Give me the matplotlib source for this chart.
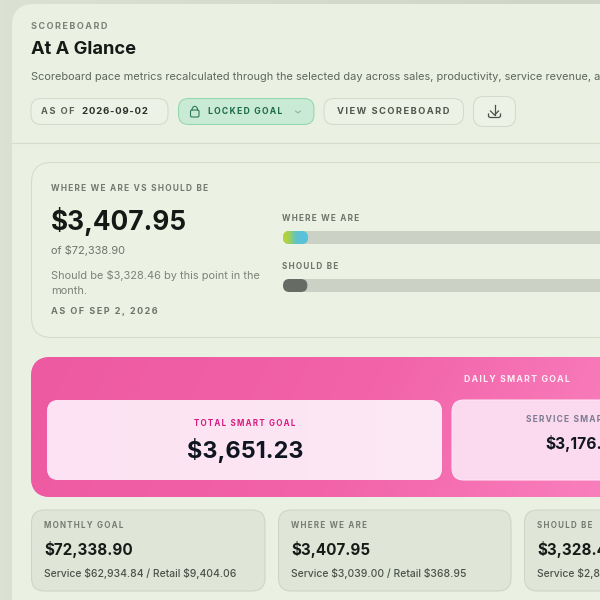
import numpy as np
import matplotlib
matplotlib.use("Agg")
import matplotlib.pyplot as plt
from matplotlib.colors import LinearSegmentedColormap
from matplotlib.patches import FancyBboxPatch, Rectangle

plt.rcParams["font.family"] = ["Inter", "DejaVu Sans"]

# values
monthly_goal = 72338.90
where_we_are = 3407.95
should_be = 3328.46
total_smart_goal = 3651.23
progress_labels = ["WHERE WE ARE", "SHOULD BE"]
progress_values = [where_we_are, should_be]
card_labels = ["MONTHLY GOAL", "WHERE WE ARE", "SHOULD BE"]
card_values = ["$72,338.90", "$3,407.95", "$3,328.4"]
card_splits = ["Service $62,934.84 / Retail $9,404.06",
               "Service $3,039.00 / Retail $368.95",
               "Service $2,8"]

TRACK_X = 283
TRACK_W = 530
HAIR = "\u200a"


def px(size):
    # css pixels to points at dpi 100
    return size * 0.72


def spaced(s, n=1):
    # fake css letter-spacing
    return (HAIR * n).join(s)


def rbox(ax, x0, y0, x1, y1, r, fc, ec="none", lw=0.75, z=1):
    patch = FancyBboxPatch((x0 + r, y0 + r), x1 - x0 - 2 * r, y1 - y0 - 2 * r,
                           boxstyle=f"round,pad={r},rounding_size={r}",
                           fc=fc, ec=ec, lw=lw, zorder=z)
    ax.add_patch(patch)
    return patch


def gradient(ax, patch, extent, colors, z, angle=0.0):
    cmap = LinearSegmentedColormap.from_list("g", colors)
    gx, gy = np.meshgrid(np.linspace(0, 1, 200), np.linspace(0, 1, 60))
    im = ax.imshow(gx + angle * gy, extent=extent, cmap=cmap, aspect="auto",
                   zorder=z, interpolation="bilinear")
    im.set_clip_path(patch)


def label(ax, x, y, s, size, color, weight="normal", ha="left", z=6):
    ax.text(x, y, s, fontsize=px(size), color=color, fontweight=weight,
            ha=ha, va="center", zorder=z, parse_math=False)


fig = plt.figure(figsize=(6, 6), dpi=100)
ax = fig.add_axes([0, 0, 1, 1])
ax.axis("off")

# page background and main panel
gradient(ax, Rectangle((0, 0), 600, 600, transform=ax.transData), (0, 600, 600, 0),
         ["#dbe1d3", "#cfd5c6"], 0)
rbox(ax, 12, 4, 660, 680, 22, "#eaf0e2", z=1)
ax.plot([12, 600], [142.5, 142.5], color="#d6ddcd", lw=0.8, zorder=2)

# header
label(ax, 31, 26.5, spaced("SCOREBOARD", 2), 9, "#7c8277", "bold")
label(ax, 31, 49.5, "At A Glance", 18.3, "#161a16", "bold")
label(ax, 31, 76.5, "Scoreboard pace metrics recalculated through the selected day across "
                    "sales, productivity, service revenue, a", 11, "#5f665b")

# header controls
rbox(ax, 31, 98.5, 168, 124.5, 10, "#edf2e6", "#d4dbca", z=2)
label(ax, 41, 111.5, spaced("AS OF", 2), 9.2, "#5a6055", "bold")
label(ax, 82.5, 111.5, spaced("2026-09-02"), 9.6, "#2b302a", "bold")

rbox(ax, 178.5, 98.5, 314, 124.5, 10, "#c9ead5", "#93d7af", z=2)
rbox(ax, 190.5, 110, 199, 117, 1.5, "none", "#2d7a56", 0.8, z=5)
arc_t = np.linspace(np.pi, 2 * np.pi, 20)
ax.plot(194.8 + 2.8 * np.cos(arc_t), 110 + 3.6 * np.sin(arc_t), color="#2d7a56", lw=0.8, zorder=5)
label(ax, 207.5, 111.5, spaced("LOCKED GOAL", 2), 8.6, "#1d6a48", "bold")
ax.plot([295.5, 298, 300.5], [111, 113, 111], color="#7fb598", lw=0.7, zorder=5)

rbox(ax, 324, 98.5, 463.5, 124.5, 10, "#edf2e6", "#d4dbca", z=2)
label(ax, 337, 111.5, spaced("VIEW SCOREBOARD", 2), 9.3, "#50564c", "bold")

rbox(ax, 473.5, 96.5, 515.5, 126.5, 10, "#edf2e6", "#d4dbca", z=2)
ax.plot([494.5, 494.5], [105, 115], color="#4a5048", lw=0.9, zorder=5)
ax.plot([490.5, 494.5, 498.5], [111, 115, 111], color="#4a5048", lw=0.9, zorder=5)
ax.plot([488.5, 488.5, 490, 499, 500.5, 500.5], [114, 116.5, 117.5, 117.5, 116.5, 114],
        color="#4a5048", lw=0.9, zorder=5)

# where we are card
rbox(ax, 31.5, 162.5, 680, 337.5, 20, "#ebf1e3", "#d5dccb", z=2)
label(ax, 51, 188.5, spaced("WHERE WE ARE VS SHOULD BE", 2), 8.3, "#747a70", "bold")
label(ax, 51, 221, f"${where_we_are:,.2f}", 26.2, "#151915", "bold")
label(ax, 51, 250.5, f"of ${monthly_goal:,.2f}", 11, "#6f756b")
label(ax, 51, 275.5, f"Should be ${should_be:,.2f} by this point in the", 11, "#7d8379")
label(ax, 51, 291.5, "month.", 11, "#7d8379")
label(ax, 51, 311, spaced("AS OF SEP 2, 2026", 2), 9.1, "#6f756b", "bold")

# progress tracks, fill width comes from value / goal
track_tops = [231, 279]
label_ys = [218.5, 266.5]
for i in range(len(progress_labels)):
    label(ax, TRACK_X - 1, label_ys[i], spaced(progress_labels[i], 2), 8.2, "#6f756b", "bold")
    top = track_tops[i]
    rbox(ax, TRACK_X, top, TRACK_X + TRACK_W, top + 13, 6.5, "#cbd1c4", z=2)
    fill_w = progress_values[i] / monthly_goal * TRACK_W
    if i == 0:
        bar = rbox(ax, TRACK_X, top, TRACK_X + fill_w, top + 13, 6.5, "#8ccb70", z=3)
        gradient(ax, bar, (TRACK_X, TRACK_X + fill_w, top + 13, top),
                 ["#c0d62a", "#9fd05a", "#62c3c0", "#58c2dc", "#58c2dc"], 4)
    else:
        rbox(ax, TRACK_X, top, TRACK_X + fill_w, top + 13, 6.5, "#666b63", z=3)

# pink smart goal band
band = rbox(ax, 31, 357, 680, 497, 20, "#f061a8", z=2)
gradient(ax, band, (31, 680, 497, 357), ["#ee5aa2", "#f263a9", "#fb86c2"], 3, angle=0.1)
label(ax, 517, 380, spaced("DAILY SMART GOAL", 2), 8.7, "#ffeef7", "bold", ha="center")

box1 = rbox(ax, 47, 400, 442, 480, 12, "#fde4f3", z=4)
gradient(ax, box1, (47, 442, 480, 400), ["#fce2f2", "#fde8f5"], 5)
label(ax, 245, 423, spaced("TOTAL SMART GOAL", 2), 8.0, "#d91c80", "bold", ha="center")
label(ax, 245, 450.5, f"${total_smart_goal:,.2f}", 23.5, "#0f1520", "bold", ha="center")

rbox(ax, 452, 400, 680, 480, 12, "#fbd9ee", "#fde8f5", z=4)
label(ax, 525.5, 420, spaced("SERVICE SMAR", 2), 8.4, "#7b7b92", "bold")
label(ax, 545, 443.5, "$3,176.", 15.6, "#10161f", "bold")

# summary cards
card_lefts = [31.5, 278.5, 524.5]
card_rights = [265, 511, 760]
for i in range(len(card_labels)):
    x0 = card_lefts[i]
    rbox(ax, x0, 510, card_rights[i], 591, 13, "#dfe6d8", "#cdd5c5", z=2)
    label(ax, x0 + 12.5, 526, spaced(card_labels[i], 2), 8.0, "#767c72", "bold")
    label(ax, x0 + 12.5, 549.5, card_values[i], 15.2, "#181c18", "bold")
    label(ax, x0 + 12.5, 573.5, card_splits[i], 10.4, "#4c5249", "medium")

ax.set_xlim(0, 600)
ax.set_ylim(600, 0)
fig.savefig("out.png", dpi=100)
